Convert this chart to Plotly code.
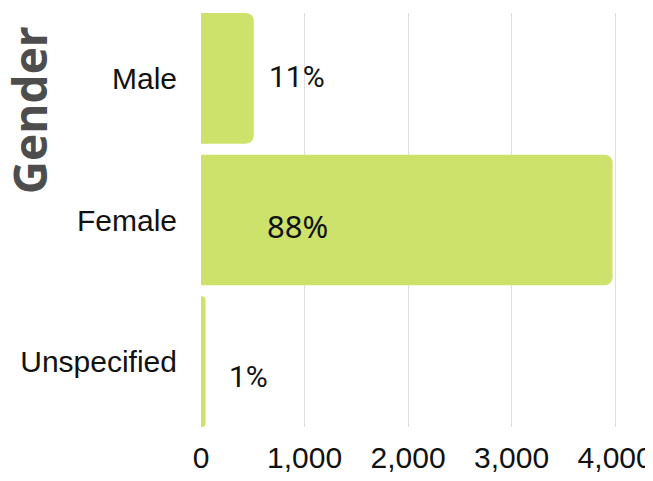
import plotly.graph_objects as go

categories = ["Male", "Female", "Unspecified"]
values = [510, 3975, 44]
pct_labels = ["11%", "88%", "1%"]
label_x = [923, 932, 459]
tick_vals = [0, 1000, 2000, 3000, 4000]
tick_text = ["0", "1,000", "2,000", "3,000", "4,000"]

fig = go.Figure()
fig.add_trace(go.Bar(
    y=categories, x=values, orientation="h",
    marker=dict(color="#cce26a", cornerradius=8, line=dict(width=0)),
    hoverinfo="skip",
))

label_fonts = ["Roboto", "Noto Sans", "Roboto"]
label_sizes = [30, 31, 30]
label_yshift = [2, -6, -15]
for cat, lx, txt, fnt, sz, ys in zip(categories, label_x, pct_labels, label_fonts, label_sizes, label_yshift):
    fig.add_annotation(x=lx, y=cat, xref="x", yref="y", text=txt, showarrow=False,
                       xanchor="center", yanchor="middle", yshift=ys,
                       font=dict(family=fnt, size=sz, color="#111111"))

fig.add_annotation(x=-0.392, y=0.765, xref="paper", yref="paper",
                   text="<b>Gender</b>", textangle=-90, showarrow=False,
                   xanchor="center", yanchor="middle",
                   font=dict(family="Open Sans", size=46, color="#4d4d4d"))

gap = 0.0775
fig.update_layout(
    width=645, height=473,
    margin=dict(l=193, r=13, t=5, b=54, autoexpand=False),
    paper_bgcolor="white", plot_bgcolor="white",
    bargap=gap, showlegend=False,
    xaxis=dict(range=[0, 4240], tickvals=tick_vals, ticktext=tick_text,
               showgrid=True, gridcolor="#dddddd", gridwidth=1,
               zeroline=False, showline=False, ticks="", automargin=False,
               ticklabeloverflow="allow",
               tickfont=dict(family="Liberation Sans", size=30, color="#111111"),
               ticklabelstandoff=10),
    yaxis=dict(categoryorder="array", categoryarray=categories,
               range=[len(categories) - 0.5 - gap / 2, -0.5 + gap / 2],
               showgrid=False, zeroline=False, showline=False, ticks="", automargin=False,
               tickfont=dict(family="Liberation Sans", size=30, color="#111111"),
               ticklabelstandoff=23),
)

fig.write_html("out.html")
